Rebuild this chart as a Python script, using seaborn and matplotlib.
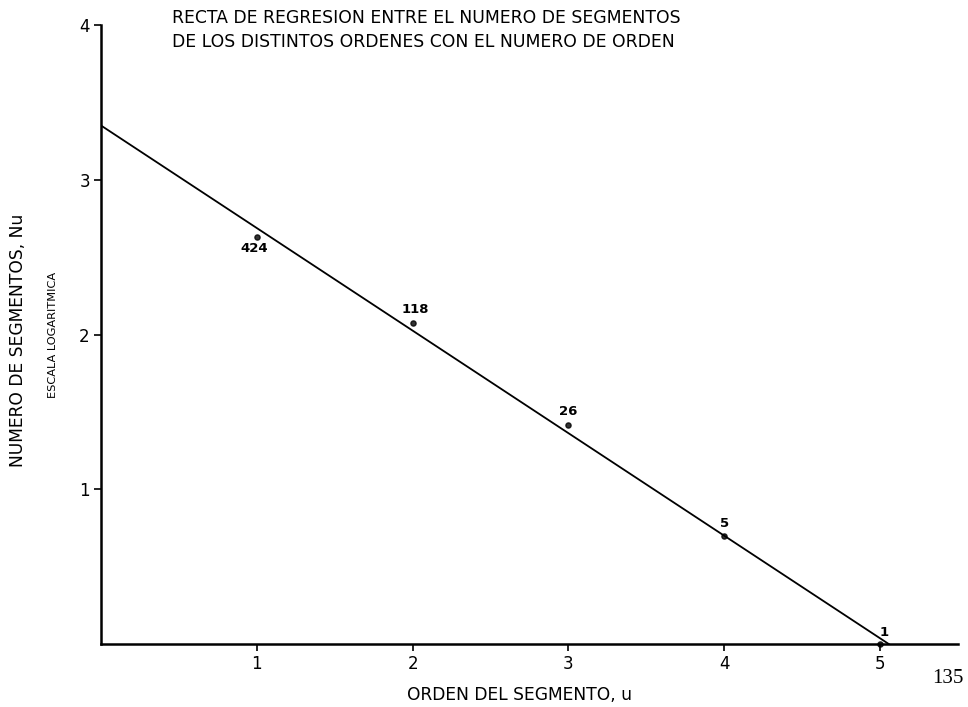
import numpy as np
import pandas as pd
import seaborn as sns
import matplotlib.pyplot as plt

# numero de segmentos por orden (escala logaritmica)
orden = [1, 2, 3, 4, 5]
segmentos = [424, 118, 26, 5, 1]
etiquetas = ["424", "118", "26", "5", "1"]

df = pd.DataFrame({"orden": orden, "log_nu": np.log10(segmentos)})

sns.set_style("ticks")
plt.rcParams["font.family"] = ["DejaVu Sans"]
plt.rcParams["text.color"] = "black"
plt.rcParams["xtick.color"] = "black"
plt.rcParams["ytick.color"] = "black"
plt.rcParams["axes.edgecolor"] = "black"

fig = plt.figure(figsize=(9.68, 7.07), dpi=100)
ax = fig.add_axes([0.1043, 0.0891, 0.8853, 0.8755])
ax.set_xlim(0, 5.5)
ax.set_ylim(0, 4)

sns.regplot(data=df, x="orden", y="log_nu", ax=ax, ci=None, truncate=False,
            color="black",
            scatter_kws={"s": 14, "clip_on": False, "zorder": 4},
            line_kws={"linewidth": 1.3})

# etiquetas de cada punto
offsets = [(-2, -8), (2, 10), (0, 10), (0, 9), (3, 8)]
for x, y, lab, off in zip(df["orden"], df["log_nu"], etiquetas, offsets):
    ax.annotate(lab, (x, y), xytext=off, textcoords="offset points",
                ha="center", va="center", fontsize=9.5, fontweight="semibold")

ax.set_xticks([1, 2, 3, 4, 5])
ax.set_yticks([1, 2, 3, 4])
ax.tick_params(axis="both", labelsize=12, length=5, width=1.2, pad=3,
               colors="black")
sns.despine(ax=ax)
for s in ["left", "bottom"]:
    ax.spines[s].set_linewidth(1.8)

ax.set_xlabel("")
ax.set_ylabel("")
fig.text(0.537, 0.017, "ORDEN DEL SEGMENTO, u", ha="center", va="center",
         fontsize=12.3)
fig.text(0.019, 0.518, "NUMERO DE SEGMENTOS, Nu", rotation=90,
         ha="center", va="center", fontsize=12.3)
fig.text(0.055, 0.526, "ESCALA LOGARITMICA", rotation=90,
         ha="center", va="center", fontsize=8.2)
fig.text(0.178, 0.975, "RECTA DE REGRESION ENTRE EL NUMERO DE SEGMENTOS",
         ha="left", va="center", fontsize=12.4)
fig.text(0.178, 0.940, "DE LOS DISTINTOS ORDENES CON EL NUMERO DE ORDEN",
         ha="left", va="center", fontsize=12.4)
fig.text(0.979, 0.041, "135", ha="center", va="center", fontsize=15,
         family="Liberation Serif")

fig.savefig("out.png", dpi=100)
